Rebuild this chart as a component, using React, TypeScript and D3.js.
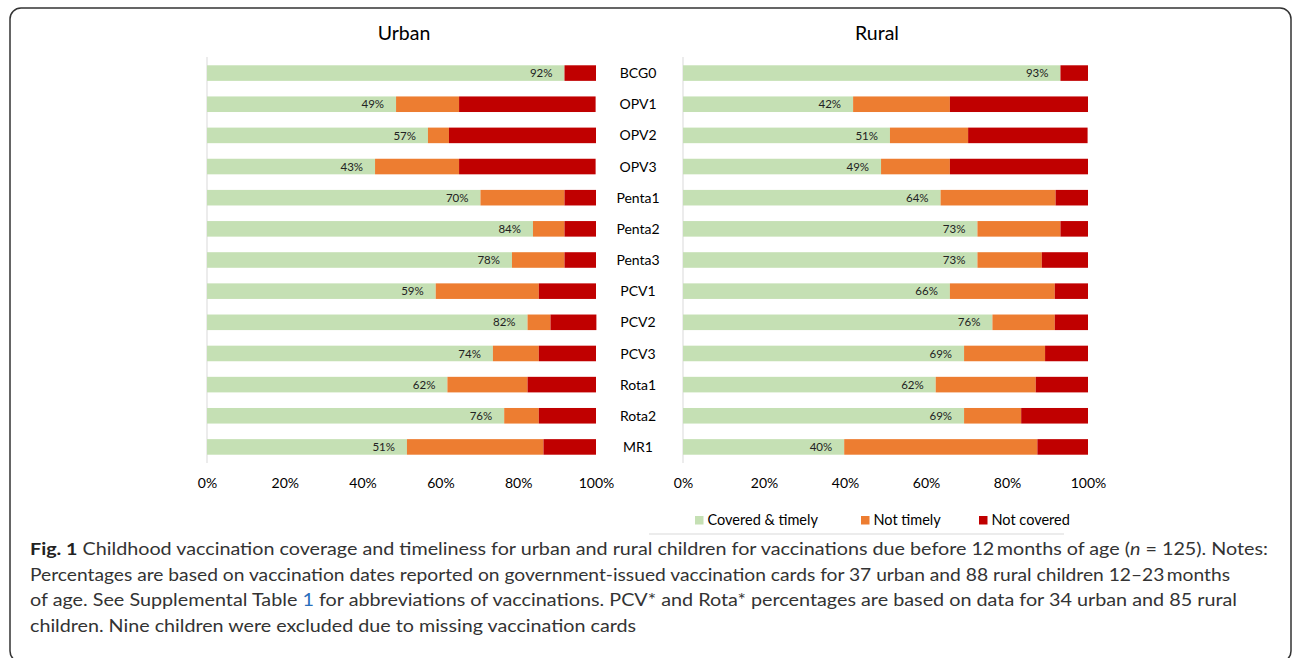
import React, { useEffect, useRef } from "react";
import * as d3 from "d3";

const categories = ["BCG0", "OPV1", "OPV2", "OPV3", "Penta1", "Penta2", "Penta3", "PCV1", "PCV2", "PCV3", "Rota1", "Rota2", "MR1"];

const urbanCovered = [91.9, 48.6, 56.8, 43.2, 70.3, 83.8, 78.4, 58.8, 82.4, 73.5, 61.8, 76.4, 51.4];
const urbanNotTimely = [0, 16.2, 5.4, 21.6, 21.6, 8.1, 13.5, 26.5, 5.9, 11.8, 20.6, 8.9, 35.1];
const urbanNotCovered = [8.1, 35.1, 37.8, 35.1, 8.1, 8.1, 8.1, 14.7, 11.8, 14.7, 17.6, 14.7, 13.5];

const ruralCovered = [93.2, 42.0, 51.1, 48.9, 63.6, 72.7, 72.7, 65.9, 76.4, 69.4, 62.4, 69.4, 39.8];
const ruralNotTimely = [0, 23.9, 19.3, 17.0, 28.4, 20.5, 15.9, 25.9, 15.4, 20.0, 24.7, 14.1, 47.7];
const ruralNotCovered = [6.8, 34.1, 29.5, 34.1, 8.0, 6.8, 11.4, 8.2, 8.2, 10.6, 12.9, 16.5, 12.5];

const seriesNames = ["Covered & timely", "Not timely", "Not covered"];
const seriesColors = ["#c5e0b4", "#ed7d31", "#c00000"];
const xTicks = [0, 20, 40, 60, 80, 100];

const chartFont = "Lato, 'Open Sans', sans-serif";

export default function App() {
  const ref = useRef<SVGSVGElement>(null);

  useEffect(() => {
    const svg = d3.select(ref.current);
    svg.selectAll("*").remove();

    // frame, bottom edge runs off the picture
    svg.append("rect")
      .attr("x", 10).attr("y", 8)
      .attr("width", 1281).attr("height", 654)
      .attr("rx", 11).attr("ry", 11)
      .attr("fill", "#fff")
      .attr("stroke", "#333").attr("stroke-width", 1.5);

    const y = d3.scaleBand<string>()
      .domain(categories)
      .range([57.5, 462.5])
      .paddingInner(0.5)
      .paddingOuter(0.25);

    const panels = [
      { title: "Urban", titleX: 404, x0: 207, x1: 596, covered: urbanCovered, notTimely: urbanNotTimely, notCovered: urbanNotCovered },
      { title: "Rural", titleX: 877, x0: 683, x1: 1088, covered: ruralCovered, notTimely: ruralNotTimely, notCovered: ruralNotCovered },
    ];

    panels.forEach(p => {
      const x = d3.scaleLinear().domain([0, 100]).range([p.x0, p.x1]);
      const rows = categories.map((c, i) => ({
        cat: c,
        [seriesNames[0]]: p.covered[i],
        [seriesNames[1]]: p.notTimely[i],
        [seriesNames[2]]: p.notCovered[i],
      }));
      const stacked = d3.stack<any>().keys(seriesNames)(rows);
      const g = svg.append("g");

      g.append("text")
        .attr("x", p.titleX).attr("y", 40)
        .attr("text-anchor", "middle")
        .style("font", "19.5px " + chartFont)
        .attr("fill", "#000")
        .text(p.title);

      g.append("line")
        .attr("x1", p.x0).attr("x2", p.x0)
        .attr("y1", 57).attr("y2", 463)
        .attr("stroke", "#d9d9d9").attr("stroke-width", 1);

      stacked.forEach((s, si) => {
        g.append("g").selectAll("rect")
          .data(s)
          .enter().append("rect")
          .attr("x", d => x(d[0]))
          .attr("width", d => Math.max(0, x(d[1]) - x(d[0])))
          .attr("y", d => y(d.data.cat) as number)
          .attr("height", y.bandwidth())
          .attr("fill", seriesColors[si]);
      });

      g.append("g").selectAll("text")
        .data(categories)
        .enter().append("text")
        .attr("x", (d, i) => x(p.covered[i]) - 12)
        .attr("y", d => (y(d) as number) + y.bandwidth() / 2)
        .attr("dy", "0.36em")
        .attr("text-anchor", "end")
        .style("font", "11.5px " + chartFont)
        .attr("fill", "#222")
        .text((d, i) => Math.round(p.covered[i]) + "%");

      const axis = g.append("g")
        .attr("transform", "translate(0,475)")
        .call(d3.axisBottom(x).tickValues(xTicks).tickSize(0).tickFormat(d => d + "%"));
      axis.select(".domain").remove();
      axis.selectAll("text")
        .style("font", "14px " + chartFont)
        .attr("fill", "#000");
    });

    // category labels between panels
    svg.append("g").selectAll("text")
      .data(categories)
      .enter().append("text")
      .attr("x", 638)
      .attr("y", d => (y(d) as number) + y.bandwidth() / 2)
      .attr("dy", "0.36em")
      .attr("text-anchor", "middle")
      .style("font", "14px " + chartFont)
      .attr("fill", "#000")
      .text(d => d);

    // legend
    const legX = [695, 861, 979];
    const leg = svg.append("g");
    seriesNames.forEach((n, i) => {
      leg.append("rect")
        .attr("x", legX[i]).attr("y", 516)
        .attr("width", 8.5).attr("height", 8.5)
        .attr("fill", seriesColors[i]);
      leg.append("text")
        .attr("x", legX[i] + 12.5).attr("y", 520)
        .attr("dy", "0.36em")
        .style("font", "14.5px " + chartFont)
        .attr("fill", "#000")
        .text(n);
    });
    svg.append("line")
      .attr("x1", 649).attr("x2", 1064)
      .attr("y1", 534).attr("y2", 534)
      .attr("stroke", "#d9d9d9").attr("stroke-width", 1);

    // caption
    const cap = svg.append("g")
      .style("font", "17px " + chartFont)
      .attr("fill", "#333");

    const l1 = cap.append("text").attr("x", 30).attr("y", 555)
      .attr("textLength", 1238).attr("lengthAdjust", "spacingAndGlyphs");
    l1.append("tspan").attr("font-weight", "bold").attr("fill", "#222").text("Fig. 1");
    l1.append("tspan").text(" Childhood vaccination coverage and timeliness for urban and rural children for vaccinations due before 12\u2009months of age (");
    l1.append("tspan").attr("font-style", "italic").text("n");
    l1.append("tspan").text(" = 125). Notes:");

    cap.append("text").attr("x", 30).attr("y", 581)
      .attr("textLength", 1200).attr("lengthAdjust", "spacingAndGlyphs")
      .text("Percentages are based on vaccination dates reported on government-issued vaccination cards for 37 urban and 88 rural children 12\u201323\u2009months");

    const l3 = cap.append("text").attr("x", 30).attr("y", 606)
      .attr("textLength", 1207).attr("lengthAdjust", "spacingAndGlyphs");
    l3.append("tspan").text("of age. See Supplemental Table ");
    l3.append("tspan").attr("fill", "#2a6ebb").text("1");
    l3.append("tspan").text(" for abbreviations of vaccinations. PCV* and Rota* percentages are based on data for 34 urban and 85 rural");

    cap.append("text").attr("x", 30).attr("y", 632)
      .attr("textLength", 606).attr("lengthAdjust", "spacingAndGlyphs")
      .text("children. Nine children were excluded due to missing vaccination cards");
  }, []);

  return (
    <svg ref={ref} width={1292} height={658}
      style={{ position: "absolute", left: 0, top: 0, background: "#fff" }} />
  );
}
